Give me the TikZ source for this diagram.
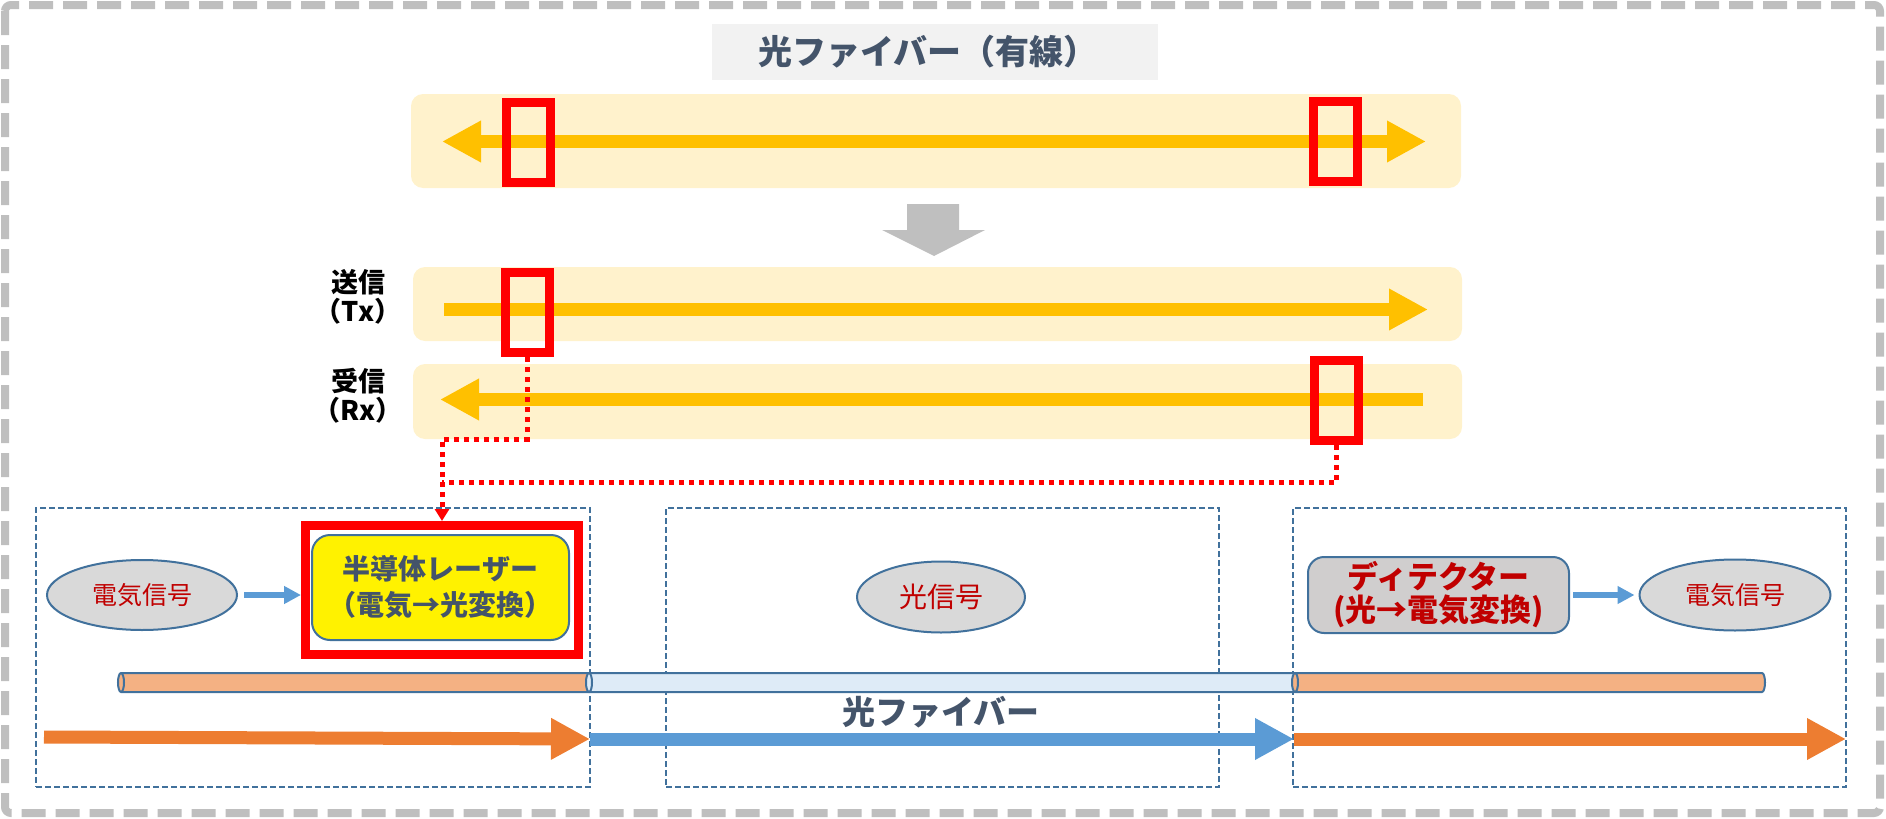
\documentclass[tikz,border=0pt]{standalone}
\usepackage{fontspec}
\setmainfont{Noto Sans CJK JP}
\usetikzlibrary{arrows.meta,shapes.geometric}
\definecolor{bandfill}{HTML}{FFF2CC}
\definecolor{ayellow}{HTML}{FFC000}
\definecolor{pred}{HTML}{FF0000}
\definecolor{bordergray}{HTML}{BFBFBF}
\definecolor{titlebg}{HTML}{F2F2F2}
\definecolor{slate}{HTML}{44546A}
\definecolor{boxblue}{HTML}{41719C}
\definecolor{ellfill}{HTML}{D9D9D9}
\definecolor{dred}{HTML}{C00000}
\definecolor{detfill}{HTML}{D0CECE}
\definecolor{ablue}{HTML}{5B9BD5}
\definecolor{aorange}{HTML}{ED7D31}
\definecolor{lorange}{HTML}{F4B183}
\definecolor{lblue}{HTML}{DEEBF7}
\begin{document}
\begin{tikzpicture}[x=0.5pt,y=-0.5pt,
  band/.style={fill=bandfill, rounded corners=6pt, inner sep=0, minimum width=524.5pt},
  redbox/.style={draw=pred, line width=4.5pt, minimum width=22pt, minimum height=40pt, inner sep=0},
  yarrow/.style={draw=ayellow, line width=6.5pt},
  ytip/.style={-{Triangle[length=19.5pt,width=19.5pt]}},
  bigarrow/.style={line width=6.5pt, -{Triangle[length=19.5pt,width=19.5pt]}},
  smallarrow/.style={draw=ablue, line width=3pt, -{Triangle[length=8.5pt,width=8.5pt]}},
  reddots/.style={draw=pred, line width=2.5pt, dash pattern=on 2.5pt off 2.5pt},
  dbox/.style={draw=boxblue, line width=0.8pt, dash pattern=on 3pt off 1.5pt, minimum width=277pt, minimum height=139.5pt, inner sep=0},
  sig/.style={ellipse, draw=boxblue, line width=1pt, fill=ellfill, inner sep=0, text=dred},
  lbl/.style={font=\fontsize{13.5pt}{14.5pt}\selectfont\bfseries, align=center, inner sep=0},
  cablefill/.style={draw=boxblue, line width=1pt}
]
\useasboundingbox (0,0) rectangle (1886,819);
% outer border
\draw[bordergray, line width=4pt, dash pattern=on 12pt off 5pt, rounded corners=3pt] (5,5) rectangle (1880,813);

% title
\node[fill=titlebg, minimum width=223pt, minimum height=28pt, inner sep=0] (titlebox) at (935,52) {};
\node[text=slate, font=\fontsize{17pt}{19pt}\selectfont\bfseries, inner sep=0] (title) at (928,52) {光ファイバー（有線）};

% top band
\node[band, minimum height=47pt, minimum width=525pt] (topband) at (936,141) {};
\coordinate (tl) at (442,141.5);
\coordinate (tr) at (1426,141.5);
\draw[yarrow, {Triangle[length=19.5pt,width=19.5pt]}-{Triangle[length=19.5pt,width=19.5pt]}] (tl) -- (tr);
\node[redbox] (topL) at (528.5,142.5) {};
\node[redbox] (topR) at (1335.5,141.5) {};

% gray down arrow
\fill[bordergray] (907,204) -- (959,204) -- (959,230) -- (985,230) -- (934,256) -- (882,230) -- (907,230) -- cycle;

% Tx / Rx bands
\node[band, minimum height=37pt] (txband) at (937.5,304) {};
\node[band, minimum height=37.5pt] (rxband) at (937.5,401.5) {};
\node[lbl] (txlbl) at (358,297) {送信\\（Tx）};
\node[lbl] (rxlbl) at (358,396) {受信\\（Rx）};
\coordinate (txs) at (444,309.5);
\coordinate (txe) at (1428,309.5);
\draw[yarrow, ytip] (txs) -- (txe);
\coordinate (rxs) at (1423,399.5);
\coordinate (rxe) at (440,399.5);
\draw[yarrow, ytip] (rxs) -- (rxe);
\node[redbox] (txr) at (527,312.5) {};
\node[redbox] (rxr) at (1336.5,400.5) {};

% bottom sections
\node[dbox] (sec1) at (313,647.5) {};
\node[dbox, minimum width=276.5pt] (sec2) at (942.5,647.5) {};
\node[dbox, minimum width=276.5pt] (sec3) at (1569.5,647.5) {};

% laser
\node[draw=pred, line width=4.5pt, minimum width=136.5pt, minimum height=64.5pt, inner sep=0] (laserframe) at (442,590) {};
\node[draw=boxblue, line width=1pt, fill=yellow, rounded corners=9pt, minimum width=128.5pt, minimum height=52.5pt, inner sep=0,
      text=slate, font=\fontsize{14pt}{18pt}\selectfont\bfseries, align=center] (laser) at (440.5,587.5) {半導体レーザー\\（電気→光変換）};

% signals
\node[sig, minimum width=95pt, minimum height=35pt, font=\fontsize{12.5pt}{15pt}\selectfont] (lsig) at (142,595) {電気信号};
\node[sig, minimum width=84pt, minimum height=35.5pt, font=\fontsize{14pt}{16pt}\selectfont] (osig) at (941,597) {光信号};
\node[sig, minimum width=95.5pt, minimum height=35.5pt, font=\fontsize{12.5pt}{15pt}\selectfont] (rsig) at (1735,595) {電気信号};

% detector
\node[draw=boxblue, line width=1pt, fill=detfill, rounded corners=8pt, minimum width=130.5pt, minimum height=38pt, inner sep=0,
      text=dred, font=\fontsize{15.5pt}{16.5pt}\selectfont\bfseries, align=center] (det) at (1438.5,595) {ディテクター\\(光→電気変換)};

% small arrows
\draw[smallarrow, shorten <=3pt] (lsig.east) -- (lsig.east -| laserframe.west);
\draw[smallarrow, shorten <=1.5pt, shorten >=2pt] (det.east) -- (det.east -| rsig.west);

% red dotted connectors
\coordinate (j1) at (442,439);
\coordinate (j2) at (442,482);
\draw[reddots] (rxr.south) |- (j2);
\draw[reddots, -{Triangle[length=6pt,width=7pt]}] (txr.south) |- (j1) -- (laserframe.north);

% cables
\foreach \xa/\xb/\cf in {121/589/lorange, 589/1294/lblue, 1295/1762/lorange}{
  \filldraw[cablefill, fill=\cf] (\xa,673) -- (\xb,673) arc(90:-90:1.5pt and 4.75pt) -- (\xa,692) arc(270:90:1.5pt and 4.75pt) -- cycle;
  \draw[cablefill] (\xa,673) arc(90:-90:1.5pt and 4.75pt);
}
\node[text=slate, font=\fontsize{16.5pt}{19pt}\selectfont\bfseries, inner sep=0] (fiber) at (941,712) {光ファイバー};

% big bottom arrows
\coordinate (a0) at (44,737);
\coordinate (a1) at (590,739);
\coordinate (a2) at (1294,739);
\coordinate (a3) at (1846,739);
\draw[bigarrow, aorange] (a0) -- (a1);
\draw[bigarrow, ablue] (a1) -- (a2);
\draw[bigarrow, aorange] (a2) -- (a3);
\end{tikzpicture}
\end{document}
